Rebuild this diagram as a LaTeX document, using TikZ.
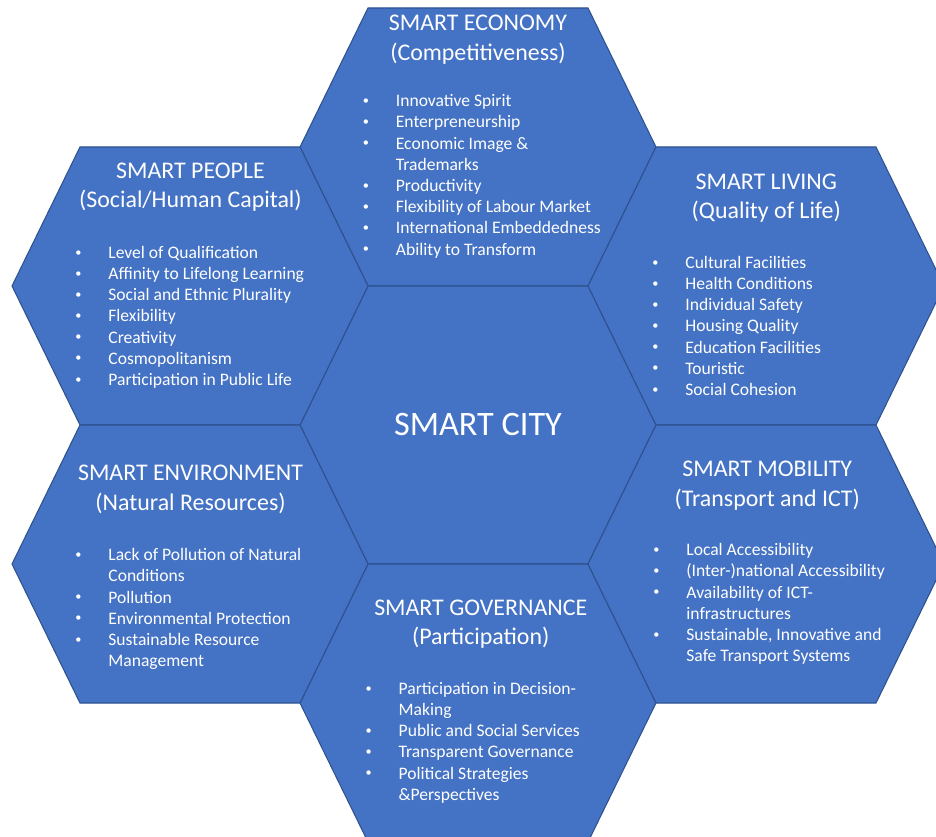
\documentclass[tikz,border=0pt]{standalone}
\usepackage{fontspec}
\setmainfont{Carlito}
\usetikzlibrary{positioning}
\definecolor{hexblue}{RGB}{68,114,196}
\definecolor{hexedge}{RGB}{47,82,143}
\newcommand{\hexbullet}{\makebox[0pt]{\raisebox{1.3pt}{\fontsize{7}{8}\selectfont\textbullet}}}

\begin{document}
\begin{tikzpicture}[
    x=0.02cm, y=-0.02cm,
    % cell shape
    hexcell/.pic = {
      \filldraw[fill=hexblue, draw=hexedge, line width=0.6pt]
        (-178,0) -- (-110,-139) -- (110,-139) -- (178,0)
        -- (110,139) -- (-110,139) -- cycle;
    },
    % text styles
    hextitle/.style = {
      anchor=base,
      inner sep=0pt,
      text=white,
      font=\fontsize{13.6}{16.8}\selectfont
    },
    itemlist/.style = {
      anchor=base west,
      inner sep=0pt,
      text=white,
      font=\fontsize{10}{12.06}\selectfont
    },
    citylabel/.style = {
      anchor=base,
      inner sep=0pt,
      text=white,
      font=\fontsize{19.5}{23}\selectfont
    }
  ]
  \useasboundingbox (0,0) rectangle (936,837);
  \clip (0,0) rectangle (936,837);

  % --- Cell centres
  \coordinate (econ)   at (478,147);
  \coordinate (city)   at (478,425);
  \coordinate (gov)    at (478,703);
  \coordinate (people) at (190,286);
  \coordinate (env)    at (190,564);
  \coordinate (living) at (766,286);
  \coordinate (mob)    at (766,564);

  % --- Cells
  \foreach \c in {econ,city,gov,people,env,living,mob}
    \pic at (\c) {hexcell};

  % --- Centre
  \node[citylabel] (cityname) at (478,435.5) {SMART CITY};

  % --- Smart economy
  \node[hextitle] (econtitle) at (478,30.7)
    {\begin{tabular}[t]{@{}c@{}}SMART ECONOMY\\(Competitiveness)\end{tabular}};
  \node[itemlist] (econlist) at (365.5,106.7)
    {\begin{tabular}[t]{@{}l@{\hspace{17.1pt}}l@{}}
      \hexbullet & Innovative Spirit\\
      \hexbullet & Enterpreneurship\\
      \hexbullet & Economic Image \&\\
                 & Trademarks\\
      \hexbullet & Productivity\\
      \hexbullet & Flexibility of Labour Market\\
      \hexbullet & International Embeddedness\\
      \hexbullet & Ability to Transform
    \end{tabular}};

  % --- Smart people
  \node[hextitle] (peopletitle) at (190.5,178.3)
    {\begin{tabular}[t]{@{}c@{}}SMART PEOPLE\\(Social/Human Capital)\end{tabular}};
  \node[itemlist] (peoplelist) at (78,258.3)
    {\begin{tabular}[t]{@{}l@{\hspace{17.1pt}}l@{}}
      \hexbullet & Level of Qualification\\
      \hexbullet & Affinity to Lifelong Learning\\
      \hexbullet & Social and Ethnic Plurality\\
      \hexbullet & Flexibility\\
      \hexbullet & Creativity\\
      \hexbullet & Cosmopolitanism\\
      \hexbullet & Participation in Public Life
    \end{tabular}};

  % --- Smart living
  \node[hextitle] (livingtitle) at (766.3,189.3)
    {\begin{tabular}[t]{@{}c@{}}SMART LIVING\\(Quality of Life)\end{tabular}};
  \node[itemlist] (livinglist) at (655,268.3)
    {\begin{tabular}[t]{@{}l@{\hspace{17.1pt}}l@{}}
      \hexbullet & Cultural Facilities\\
      \hexbullet & Health Conditions\\
      \hexbullet & Individual Safety\\
      \hexbullet & Housing Quality\\
      \hexbullet & Education Facilities\\
      \hexbullet & Touristic\\
      \hexbullet & Social Cohesion
    \end{tabular}};

  % --- Smart environment
  \node[hextitle] (envtitle) at (190.5,480.7)
    {\begin{tabular}[t]{@{}c@{}}SMART ENVIRONMENT\\(Natural Resources)\end{tabular}};
  \node[itemlist] (envlist) at (78,560.7)
    {\begin{tabular}[t]{@{}l@{\hspace{17.1pt}}l@{}}
      \hexbullet & Lack of Pollution of Natural\\
                 & Conditions\\
      \hexbullet & Pollution\\
      \hexbullet & Environmental Protection\\
      \hexbullet & Sustainable Resource\\
                 & Management
    \end{tabular}};

  % --- Smart mobility
  \node[hextitle] (mobtitle) at (767.3,476.7)
    {\begin{tabular}[t]{@{}c@{}}SMART MOBILITY\\(Transport and ICT)\end{tabular}};
  \node[itemlist] (moblist) at (656,555.7)
    {\begin{tabular}[t]{@{}l@{\hspace{17.1pt}}l@{}}
      \hexbullet & Local Accessibility\\
      \hexbullet & (Inter-)national Accessibility\\
      \hexbullet & Availability of ICT-\\
                 & infrastructures\\
      \hexbullet & Sustainable, Innovative and\\
                 & Safe Transport Systems
    \end{tabular}};

  % --- Smart governance
  \node[hextitle] (govtitle) at (480.7,615)
    {\begin{tabular}[t]{@{}c@{}}SMART GOVERNANCE\\(Participation)\end{tabular}};
  \node[itemlist] (govlist) at (368.3,694.3)
    {\begin{tabular}[t]{@{}l@{\hspace{17.1pt}}l@{}}
      \hexbullet & Participation in Decision-\\
                 & Making\\
      \hexbullet & Public and Social Services\\
      \hexbullet & Transparent Governance\\
      \hexbullet & Political Strategies\\
                 & \&Perspectives
    \end{tabular}};
\end{tikzpicture}
\end{document}
